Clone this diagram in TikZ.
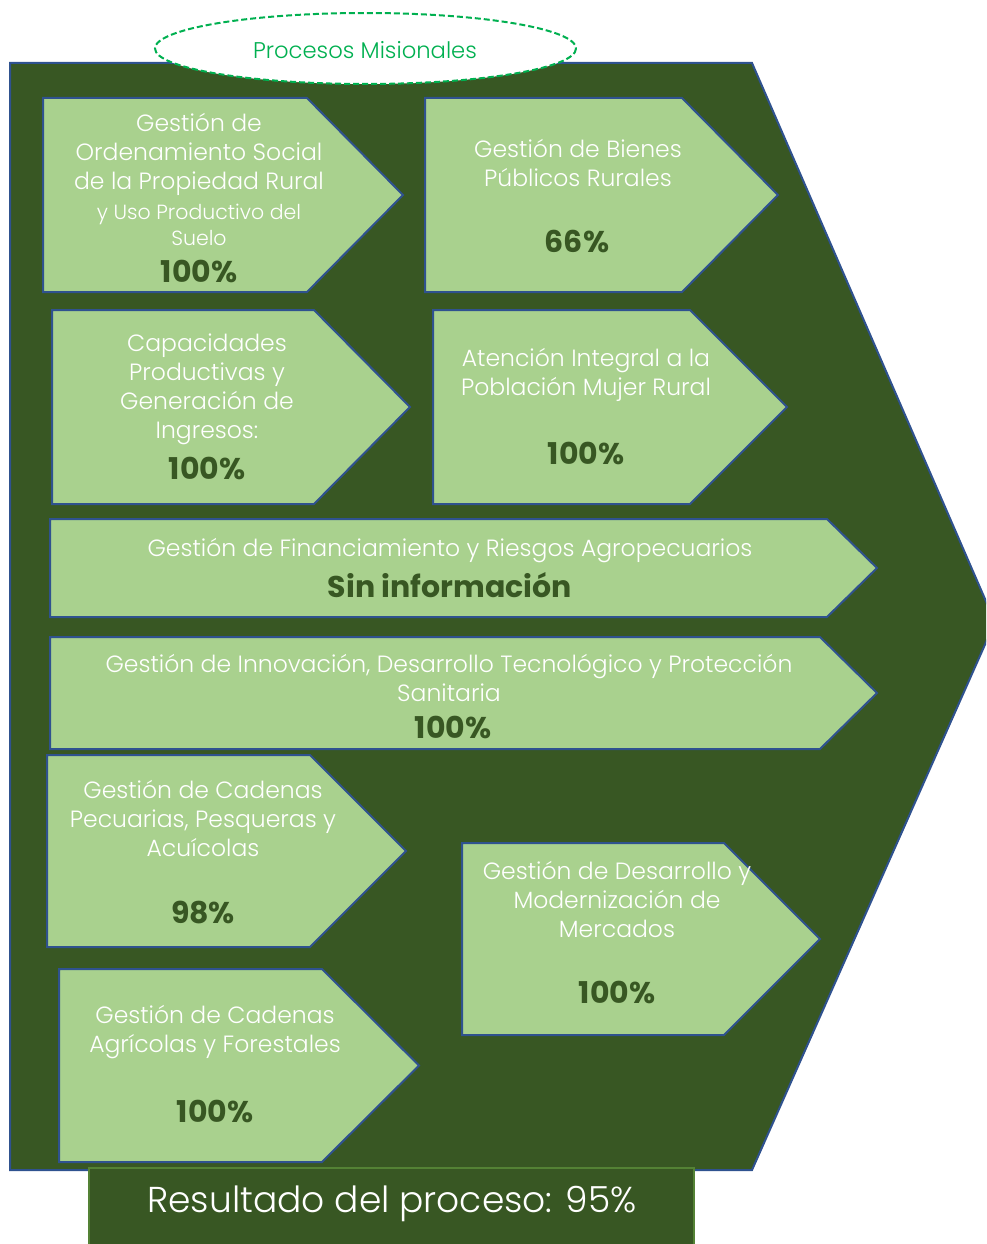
\documentclass[tikz,border=0pt]{standalone}
\usepackage{fontspec}
\setmainfont{Poppins}
\IfFontExistsTF{Poppins Light}{\newfontfamily\fina{Poppins Light}}{\newfontfamily\fina{Poppins}}
\usetikzlibrary{shapes.geometric}
\definecolor{bosque}{HTML}{385723}
\definecolor{hoja}{HTML}{A9D18E}
\definecolor{borde}{HTML}{2F528F}
\definecolor{misional}{HTML}{00B050}
\definecolor{borderes}{HTML}{548235}
\def\flecha[#1](#2,#3)(#4,#5)(#6){\draw[#1] (#2,#3) -- (#4,#3) -- (#6,{(#3+#5)/2}) -- (#4,#5) -- (#2,#5) -- cycle;}

\begin{document}
\begin{tikzpicture}[x=1pt, y=-1pt,
	caja/.style={fill=hoja, draw=borde, line width=2},
	titulo/.style={text=white, align=center, inner sep=0, font=\fina\fontsize{23.5}{29}\selectfont},
	sub/.style={text=white, align=center, inner sep=0, font=\fina\fontsize{20.5}{26}\selectfont},
	cifra/.style={text=bosque, inner sep=0, font=\fontsize{30}{34}\selectfont\bfseries}]
		%%%%% START %%%%%
		\clip (0,0) rectangle (986,1244);
		
		% gran flecha de fondo
		\draw[fill=bosque, draw=borde, line width=2] (10,63) -- (752,63) -- (995,622) -- (752,1170) -- (10,1170) -- cycle;
		
		\draw[fill=white, draw=misional, line width=2, dash pattern=on 6 off 3] (365.5,48.5) ellipse (210.5 and 35.5);
		\node[text=misional, inner sep=0, font=\fina\fontsize{22.7}{26}\selectfont] (misionales) at (365,50) {Procesos Misionales};
		
		% procesos
		\flecha[caja](43,98)(307,292)(403);
		\flecha[caja](425,98)(682,292)(778);
		\flecha[caja](52,310)(314,504)(410);
		\flecha[caja](433,310)(690,504)(787);
		\flecha[caja](50,519)(827,617)(877);
		\flecha[caja](50,637)(820,749)(877);
		\flecha[caja](47,755)(310,947)(406);
		\flecha[caja](462,843)(724,1035)(820);
		\flecha[caja](59,969)(322,1162)(419);
		
		\node[titulo] (ordenamiento) at (199,154.5) {Gestión de\\Ordenamiento Social\\de la Propiedad Rural};
		\node[sub] (suelo) at (199,224.5) {y Uso Productivo del\\Suelo};
		\node[cifra] (ordenamientoV) at (199,271) {100\%};
		
		\node[titulo] (bienes) at (578,162.5) {Gestión de Bienes\\Públicos Rurales};
		\node[cifra] (bienesV) at (577,241) {66\%};
		
		\node[titulo] (capacidades) at (207,389) {Capacidades\\Productivas y\\Generación de\\Ingresos:};
		\node[cifra] (capacidadesV) at (207,468) {100\%};
		
		\node[titulo] (mujer) at (586,374.5) {Atención Integral a la\\Población Mujer Rural};
		\node[cifra] (mujerV) at (586,453) {100\%};
		
		\node[titulo] (financiamiento) at (450,550.5) {Gestión de Financiamiento y Riesgos Agropecuarios};
		\node[cifra] (financiamientoV) at (450,585) {Sin información};
		
		\node[titulo] (innovacion) at (449,677.5) {Gestión de Innovación, Desarrollo Tecnológico y Protección\\Sanitaria};
		\node[cifra] (innovacionV) at (453,727) {100\%};
		
		\node[titulo] (pecuarias) at (203,818.5) {Gestión de Cadenas\\Pecuarias, Pesqueras y\\Acuícolas};
		\node[cifra] (pecuariasV) at (203,912) {98\%};
		
		\node[titulo] (mercados) at (617,899) {Gestión de Desarrollo y\\Modernización de\\Mercados};
		\node[cifra] (mercadosV) at (617,992) {100\%};
		
		\node[titulo] (agricolas) at (215,1032.5) {Gestión de Cadenas\\Agrícolas y Forestales};
		\node[cifra] (agricolasV) at (215,1111) {100\%};
		
		% resultado
		\draw[fill=bosque, draw=borderes, line width=1.5] (89,1168) rectangle (694,1260);
		\node[text=white, inner sep=0, font=\fina\fontsize{36}{42}\selectfont] (resultado) at (392,1204) {Resultado del proceso: 95\%};
		
		%%%%% END %%%%%
\end{tikzpicture}
\end{document}
